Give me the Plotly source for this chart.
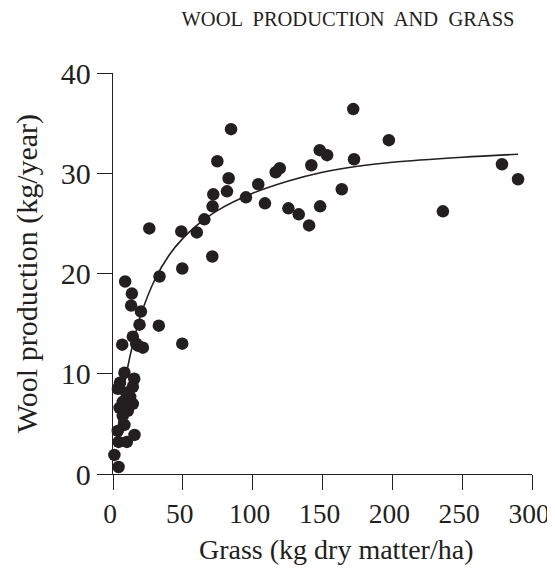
import plotly.graph_objects as go

# Observed data points (grass kg dry matter/ha, wool kg/year)
grass = [172, 197.5, 84.5, 74.7, 148, 153.3, 172.6, 142, 119.4, 116.5,
         82.8, 71.8, 81.6, 104, 95.2, 108.8, 71.3, 163.8, 125.6, 133,
         140.4, 148.3, 65.4, 60, 48.9, 26, 71.1, 278.5, 290, 236.2,
         49.6, 33.3, 32.8, 49.6,
         8.7, 13.5, 13.0, 20.0, 19.0, 14.2, 6.6, 16.6, 21.4, 17.8,
         8.2, 15.2, 5.0, 3.5, 14.2, 9.5, 12.3, 7.0, 14.2, 4.7,
         10.6, 7.0, 8.2, 3.4, 15.4, 4.0, 9.9, 1.0, 4.0]
wool = [36.4, 33.3, 34.4, 31.2, 32.3, 31.8, 31.4, 30.8, 30.5, 30.1,
        29.5, 27.9, 28.2, 28.9, 27.6, 27.0, 26.7, 28.4, 26.5, 25.9,
        24.8, 26.7, 25.4, 24.1, 24.2, 24.5, 21.7, 30.9, 29.4, 26.2,
        20.5, 19.7, 14.8, 13.0,
        19.2, 18.0, 16.8, 16.2, 14.9, 13.7, 12.9, 13.0, 12.6, 12.8,
        10.1, 9.5, 9.1, 8.5, 8.7, 8.1, 7.7, 7.2, 7.0, 6.6,
        6.3, 5.8, 4.9, 4.3, 3.9, 3.2, 3.2, 1.9, 0.7]

# Fitted curve, values
curve_x = [2, 5, 10, 15, 20, 30, 40, 50, 60, 75, 100, 125, 150, 175, 200, 250, 290]
curve_y = [2.7, 6.0, 10.3, 13.4, 15.9, 19.4, 21.8, 23.5, 24.8, 26.3, 28.0, 29.2,
           30.1, 30.7, 31.1, 31.6, 31.9]

x_ticks = [0, 50, 100, 150, 200, 250, 300]
y_ticks = [0, 10, 20, 30, 40]

INK = "#231f20"
FONT = "Liberation Serif, Times New Roman, serif"

# the page body adds an 8px margin around the figure, so it is drawn smaller
W, H = 547, 557

fig = go.Figure()
fig.add_trace(go.Scatter(x=curve_x, y=curve_y, mode="lines",
                         line=dict(color=INK, width=1.6, shape="spline"),
                         hoverinfo="skip", cliponaxis=False))
fig.add_trace(go.Scatter(x=grass, y=wool, mode="markers",
                         marker=dict(color=INK, size=12.5, line=dict(width=0)),
                         cliponaxis=False))

fig.update_layout(
    width=W, height=H,
    margin=dict(l=105, r=23, t=65, b=H - 466, autoexpand=False),
    paper_bgcolor="white", plot_bgcolor="white",
    showlegend=False,
    font=dict(family=FONT, color=INK, size=29),
    title=dict(text="WOOL  PRODUCTION  AND  GRASS",
               font=dict(family=FONT, size=20.5, color=INK),
               x=340 / W, xanchor="center", xref="container",
               y=1 - 11 / H, yanchor="middle", yref="container",
               automargin=False),
    xaxis=dict(range=[0, 300], tickvals=x_ticks, ticks="outside", ticklen=15,
               tickwidth=1.3, tickcolor=INK, showline=True, linecolor=INK,
               linewidth=1.3, showgrid=False, zeroline=False, automargin=False,
               ticklabeloverflow="allow", ticklabelshift=-3,
               tickfont=dict(size=27.5, family=FONT, color=INK)),
    yaxis=dict(range=[0, 40], tickvals=y_ticks, ticks="outside", ticklen=15,
               tickwidth=1.3, tickcolor=INK, showline=True, linecolor=INK,
               linewidth=1.3, showgrid=False, zeroline=False, automargin=False,
               ticklabeloverflow="allow",
               tickfont=dict(size=30, family=FONT, color=INK),
               title=dict(text="Wool production (kg/year)", standoff=14,
                          font=dict(size=30, family=FONT, color=INK))),
    annotations=[dict(text="Grass (kg dry matter/ha)", xref="paper", yref="paper",
                      x=(336 - 113) / 419, y=0, xanchor="center", yanchor="middle",
                      yshift=-75, showarrow=False,
                      font=dict(size=28, family=FONT, color=INK))],
)

fig.write_html("out.html")
